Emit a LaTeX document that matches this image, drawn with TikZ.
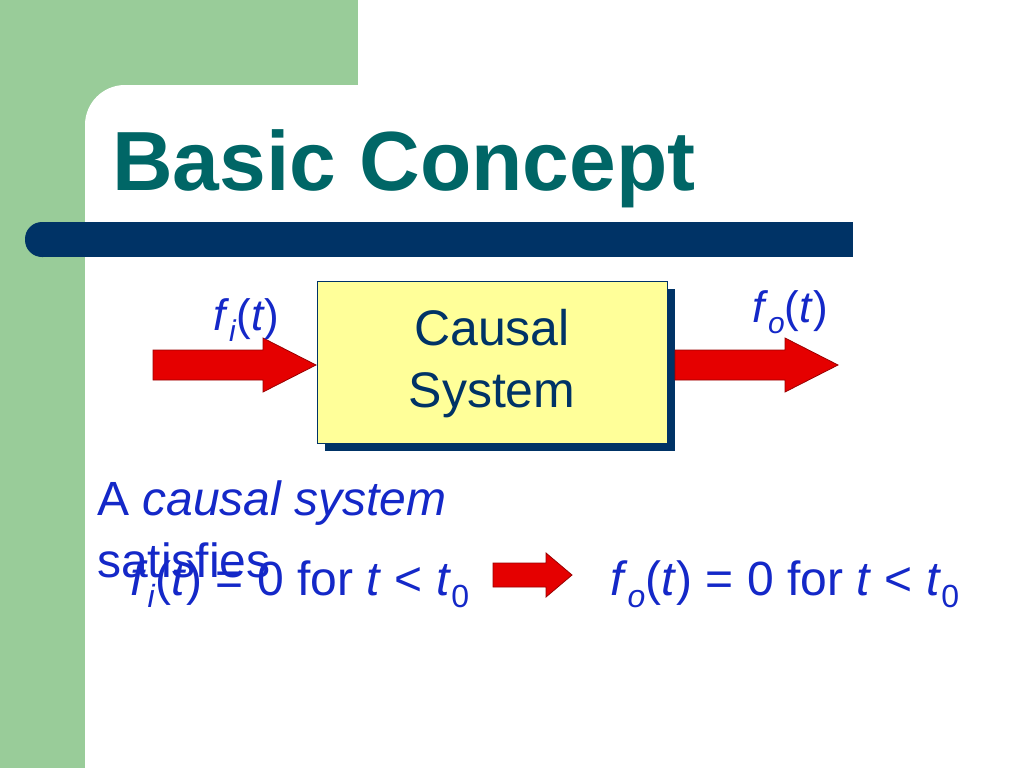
\documentclass[tikz,border=0pt]{standalone}
\usepackage{fontspec}
\setmainfont{Liberation Sans}
\begin{document}
\begin{tikzpicture}[x=1pt,y=-1pt,
  txt/.style={text=blu,font=\fontsize{48}{54}\selectfont,inner sep=0,anchor=base west},
  redarrow/.style={fill=red!90!black,draw=red!60!black,line width=0.8}]
\definecolor{grn}{RGB}{153,204,153}
\definecolor{teal2}{RGB}{0,102,102}
\definecolor{navy}{RGB}{0,51,102}
\definecolor{blu}{RGB}{20,40,200}
\definecolor{yel}{RGB}{255,255,153}
\useasboundingbox (0,0) rectangle (1024,768);
\fill[white] (0,0) rectangle (1024,768);
\fill[grn] (0,0) rectangle (358,140);
\fill[grn] (0,0) rectangle (85,768);
\fill[white,rounded corners=40] (85,85) rectangle (1100,800);
\node[anchor=base west,inner sep=0,text=teal2,font=\bfseries\fontsize{84}{90}\selectfont] (title) at (112,190) {Basic Concept};
\fill[navy,rounded corners=17] (25,222) rectangle (60,257);
\fill[navy] (42,222) rectangle (853,257);
% box
\fill[navy] (325,289) rectangle (675,451);
\node[draw=navy,line width=0.6,fill=yel,minimum width=350,minimum height=162,anchor=north west,inner sep=0] (sys) at (317,281) {};
\node[text=navy,font=\fontsize{50}{62}\selectfont,align=center] (lbl) at (492,364) {Causal\\System};
% arrows
\coordinate (a1) at (153,365);
\coordinate (a2) at (675,365);
\coordinate (a3) at (493,575);
\draw[redarrow] (a1) ++(0,-15) -- ++(110,0) -- ++(0,-12) -- ++(53,27) -- ++(-53,27) -- ++(0,-12) -- ++(-110,0) -- cycle;
\draw[redarrow] (a2) ++(0,-15) -- ++(110,0) -- ++(0,-12) -- ++(53,27) -- ++(-53,27) -- ++(0,-12) -- ++(-110,0) -- cycle;
\draw[redarrow] (a3) ++(0,-12) -- ++(53,0) -- ++(0,-10) -- ++(26,22) -- ++(-26,22) -- ++(0,-10) -- ++(-53,0) -- cycle;
\node[txt,font=\fontsize{44}{50}\selectfont] (fi) at (213,330) {\textit{f}\raisebox{-0.25em}{\fontsize{30}{30}\selectfont\textit{i}}(\textit{t})};
\node[txt,font=\fontsize{44}{50}\selectfont] (fo) at (752,322) {\textit{f}\raisebox{-0.25em}{\fontsize{30}{30}\selectfont\textit{o}}(\textit{t})};
\node[txt] (l1) at (97,515) {A \textit{causal system}};
\node[txt] (l2) at (97,577) {satisfies};
\node[txt] (e1) at (130,595) {\textit{f}\raisebox{-0.25em}{\fontsize{32}{32}\selectfont\textit{i}}(\textit{t}) = 0 for \textit{t} < \textit{t}\raisebox{-0.25em}{\fontsize{32}{32}\selectfont 0}};
\node[txt] (e2) at (610,595) {\textit{f}\raisebox{-0.25em}{\fontsize{32}{32}\selectfont\textit{o}}(\textit{t}) = 0 for \textit{t} < \textit{t}\raisebox{-0.25em}{\fontsize{32}{32}\selectfont 0}};
\end{tikzpicture}
\end{document}
